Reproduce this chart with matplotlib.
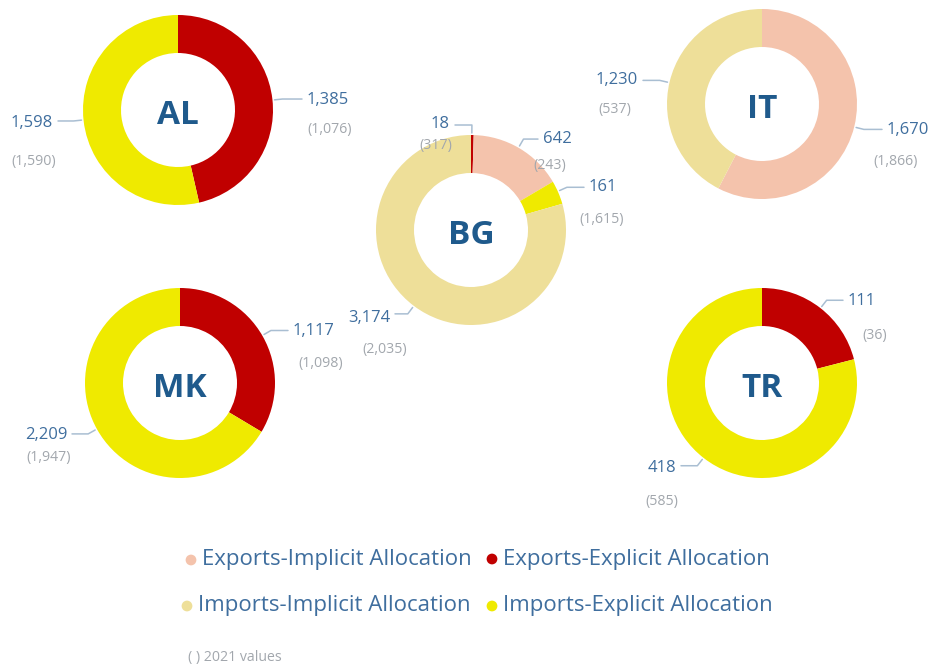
import math
import matplotlib
matplotlib.use("Agg")
import matplotlib.pyplot as plt

# ---------------- data ----------------
countries = ["AL", "BG", "IT", "MK", "TR"]
categories = ["Exports-Implicit Allocation", "Exports-Explicit Allocation",
              "Imports-Implicit Allocation", "Imports-Explicit Allocation"]

# 2022 values (0 = not present)
exports_implicit = [0, 642, 1670, 0, 0]
exports_explicit = [1385, 18, 0, 1117, 111]
imports_implicit = [0, 3174, 1230, 0, 0]
imports_explicit = [1598, 161, 0, 2209, 418]

# 2021 values (shown in brackets)
exports_implicit_2021 = [None, 243, 1866, None, None]
exports_explicit_2021 = [1076, 317, None, 1098, 36]
imports_implicit_2021 = [None, 2035, 537, None, None]
imports_explicit_2021 = [1590, 1615, None, 1947, 585]

# ---------------- styles ----------------
W, H = 930, 665
cat_colors = {
    "Exports-Implicit Allocation": "#F4C3AC",
    "Exports-Explicit Allocation": "#C00000",
    "Imports-Implicit Allocation": "#EEDF99",
    "Imports-Explicit Allocation": "#EFEA00",
}
# slice order clockwise from 12 o'clock
slice_order = ["Exports-Explicit Allocation", "Exports-Implicit Allocation",
               "Imports-Explicit Allocation", "Imports-Implicit Allocation"]

VAL_COLOR = "#3F6E9E"
OLD_COLOR = "#A2A7AD"
LEAD_COLOR = "#A9BED2"
CENTER_COLOR = "#1F5A8C"
FONT = ["Open Sans", "DejaVu Sans"]

R_OUT, R_IN = 95, 57

# layout (pixel coordinates, y measured from top)
centers = {"AL": (178, 110), "BG": (471, 230), "IT": (762, 104),
           "MK": (180, 383), "TR": (762, 383)}
# label layout: (leader angle deg clockwise from top, value text x, y, ha, 2021 text x, y, ha)
label_layout = {
    ("AL", "Exports-Explicit Allocation"): (84, 307, 100, "left", 307, 129, "left"),
    ("AL", "Imports-Explicit Allocation"): (264, 53, 123, "right", 11, 162, "left"),
    ("BG", "Exports-Explicit Allocation"): (0.5, 450, 124, "right", 452, 145, "right"),
    ("BG", "Exports-Implicit Allocation"): (30, 543, 139, "left", 533, 165, "left"),
    ("BG", "Imports-Explicit Allocation"): (66, 589, 187, "left", 579, 219, "left"),
    ("BG", "Imports-Implicit Allocation"): (217, 390, 318, "right", 407, 349, "right"),
    ("IT", "Imports-Implicit Allocation"): (283, 638, 80, "right", 598, 109, "left"),
    ("IT", "Exports-Implicit Allocation"): (104, 887, 130, "left", 873, 162, "left"),
    ("MK", "Exports-Explicit Allocation"): (60, 293, 331, "left", 298, 363, "left"),
    ("MK", "Imports-Explicit Allocation"): (241, 67, 435, "right", 26, 458, "left"),
    ("TR", "Exports-Explicit Allocation"): (38, 848, 301, "left", 862, 335, "left"),
    ("TR", "Imports-Explicit Allocation"): (218, 676, 468, "right", 645, 501, "left"),
}


def Y(y):
    return H - y


series = {
    "Exports-Implicit Allocation": (exports_implicit, exports_implicit_2021),
    "Exports-Explicit Allocation": (exports_explicit, exports_explicit_2021),
    "Imports-Implicit Allocation": (imports_implicit, imports_implicit_2021),
    "Imports-Explicit Allocation": (imports_explicit, imports_explicit_2021),
}

fig = plt.figure(figsize=(W / 100, H / 100), dpi=100)
ax = fig.add_axes([0, 0, 1, 1])

for i, c in enumerate(countries):
    cx, cy = centers[c]
    cats = [k for k in slice_order if series[k][0][i] > 0]
    vals = [series[k][0][i] for k in cats]
    cols = [cat_colors[k] for k in cats]
    ax.pie(vals, colors=cols, radius=R_OUT, center=(cx, Y(cy)), startangle=90,
           counterclock=False, wedgeprops=dict(width=R_OUT - R_IN, linewidth=0, edgecolor="none"))
    ax.text(cx, Y(cy + 14), c, ha="center", va="baseline", fontsize=24,
            fontweight="bold", color=CENTER_COLOR, family=FONT)
    for k in cats:
        v = series[k][0][i]
        v21 = series[k][1][i]
        ang, tx, ty, tha, ox, oy, oha = label_layout[(c, k)]
        a = math.radians(ang)
        sx = cx + (R_OUT + 2) * math.sin(a)
        sy = cy - (R_OUT + 2) * math.cos(a)
        ex = cx + (R_OUT + 10) * math.sin(a)
        ey = cy - (R_OUT + 10) * math.cos(a)
        endx = tx - 5 if tha == "left" else tx + 5
        ax.plot([sx, ex, endx], [Y(sy), Y(ey), Y(ey)], color=LEAD_COLOR, lw=1.1,
                solid_capstyle="round")
        ax.text(tx, Y(ty), f"{v:,}", ha=tha, va="center", fontsize=12,
                color=VAL_COLOR, family=FONT)
        if v21 is not None:
            ax.text(ox, Y(oy), f"({v21:,})", ha=oha, va="center", fontsize=10.2,
                    color=OLD_COLOR, family=FONT)

# legend (manual, two rows)
legend_pos = {
    "Exports-Implicit Allocation": (191, 560),
    "Exports-Explicit Allocation": (492, 559),
    "Imports-Implicit Allocation": (187, 606),
    "Imports-Explicit Allocation": (492, 606),
}
for k in categories:
    mx, my = legend_pos[k]
    ax.scatter([mx], [Y(my)], s=60, color=cat_colors[k], edgecolors="none", zorder=3)
    ax.text(mx + 11, Y(my), k, ha="left", va="center", fontsize=16,
            color=VAL_COLOR, family=FONT)

ax.text(188, Y(657), "( ) 2021 values", ha="left", va="center", fontsize=10.2,
        color=OLD_COLOR, family=FONT)

ax.set_xlim(0, W)
ax.set_ylim(0, H)
ax.set_aspect("equal")
ax.axis("off")
fig.savefig("out.png", dpi=100, facecolor="white")
